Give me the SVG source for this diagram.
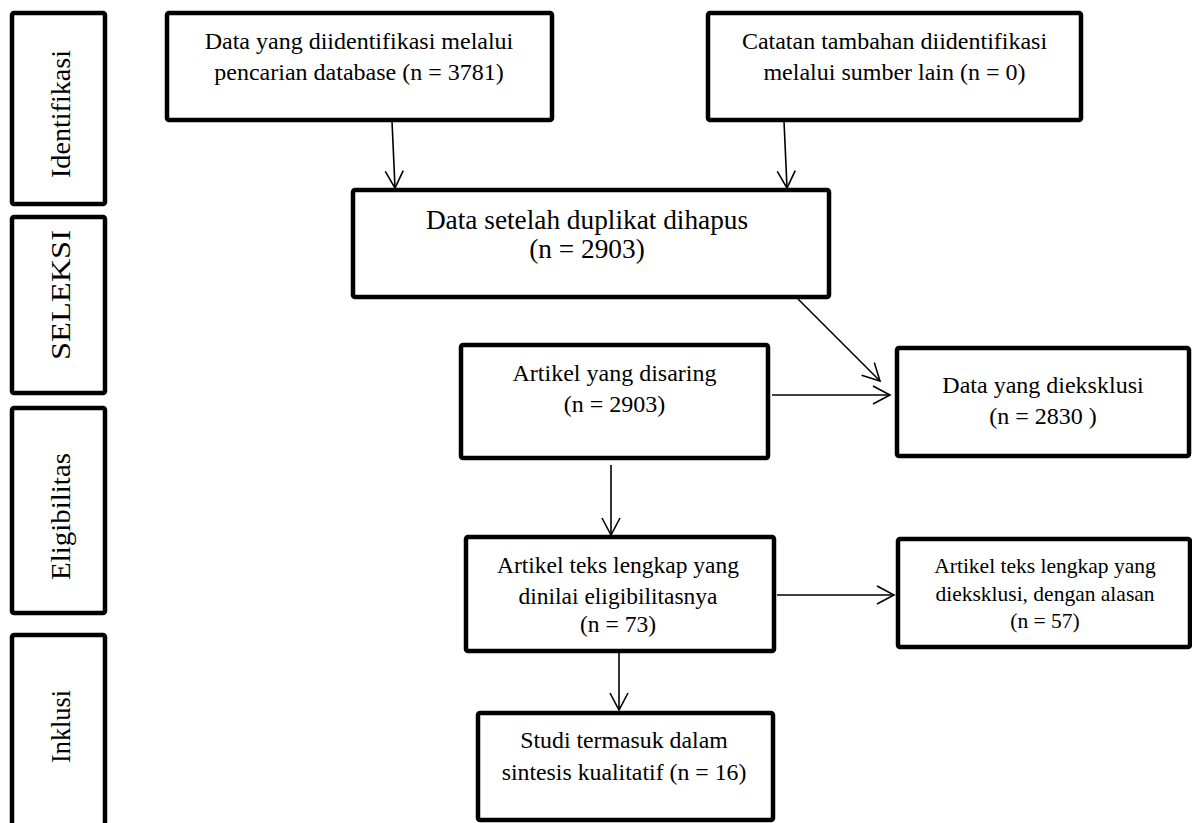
<svg xmlns="http://www.w3.org/2000/svg" width="1192" height="823" viewBox="0 0 1192 823">
<style>
.box{fill:#fff;stroke:#000;stroke-width:4.5}
.t{font-family:"Liberation Serif","Times New Roman",serif;fill:#000;text-anchor:middle;font-size:24px}
.s{font-size:21.5px}
.m{font-size:23.5px}
.st{font-size:23.8px}
.b{font-size:27.3px}
.side{font-size:28px}
.c{stroke:#000;stroke-width:1.6;fill:none;marker-end:url(#ah)}
</style>
<defs>
<marker id="ah" markerUnits="userSpaceOnUse" markerWidth="24" markerHeight="24" viewBox="-20 -12 24 24" refX="0" refY="0" orient="auto">
<path d="M -17 -9 L 0 0 L -17 9" fill="none" stroke="#000" stroke-width="1.6"/>
</marker>
</defs>
<rect width="1192" height="823" fill="#fff"/>
<g id="side-identifikasi"><rect class="box" x="12" y="13" width="93" height="191" rx="2"/><text class="t side" transform="translate(70,114) rotate(-90)" textLength="128" lengthAdjust="spacingAndGlyphs">Identifikasi</text></g>
<g id="side-seleksi"><rect class="box" x="12" y="217" width="93" height="176" rx="2"/><text class="t side" transform="translate(70,295) rotate(-90)" textLength="130" lengthAdjust="spacingAndGlyphs">SELEKSI</text></g>
<g id="side-eligibilitas"><rect class="box" x="12" y="408" width="93" height="205" rx="2"/><text class="t side" transform="translate(70,516.5) rotate(-90)" textLength="127" lengthAdjust="spacingAndGlyphs">Eligibilitas</text></g>
<g id="side-inklusi"><rect class="box" x="12" y="635" width="93" height="200" rx="2"/><text class="t side" transform="translate(70,726.5) rotate(-90)" textLength="73" lengthAdjust="spacingAndGlyphs">Inklusi</text></g>
<g id="n-database"><rect class="box" x="167" y="13" width="385" height="107" rx="2"/><text class="t" x="359" y="49">Data yang diidentifikasi melalui</text><text class="t" x="359" y="80">pencarian database (n = 3781)</text></g>
<g id="n-lain"><rect class="box" x="708" y="13" width="373" height="107" rx="2"/><text class="t" x="894.5" y="49">Catatan tambahan diidentifikasi</text><text class="t" x="894.5" y="80">melalui sumber lain (n = 0)</text></g>
<g id="n-duplikat"><rect class="box" x="353" y="190" width="476" height="107" rx="2"/><text class="t b" x="587" y="229">Data setelah duplikat dihapus</text><text class="t b" x="587" y="258">(n = 2903)</text></g>
<g id="n-disaring"><rect class="box" x="461" y="345" width="307" height="113" rx="2"/><text class="t" x="614.5" y="381">Artikel yang disaring</text><text class="t" x="614.5" y="412">(n = 2903)</text></g>
<g id="n-dieksklusi"><rect class="box" x="897" y="348" width="292" height="108" rx="2"/><text class="t" x="1043" y="393">Data yang dieksklusi</text><text class="t" x="1043" y="424">(n = 2830 )</text></g>
<g id="n-teks"><rect class="box" x="466" y="537" width="308" height="114" rx="2"/><text class="t m" x="618" y="573">Artikel teks lengkap yang</text><text class="t m" x="618" y="604">dinilai eligibilitasnya</text><text class="t m" x="618" y="632">(n = 73)</text></g>
<g id="n-teks-eksklusi"><rect class="box" x="898" y="539" width="292" height="108" rx="2"/><text class="t s" x="1045" y="573">Artikel teks lengkap yang</text><text class="t s" x="1045" y="601">dieksklusi, dengan alasan</text><text class="t s" x="1045" y="628">(n = 57)</text></g>
<g id="n-studi"><rect class="box" x="478" y="713" width="295" height="107" rx="2"/><text class="t st" x="624" y="748">Studi termasuk dalam</text><text class="t st" x="624" y="780">sintesis kualitatif (n = 16)</text></g>
<g id="connectors">
<line class="c" x1="392" y1="121" x2="395" y2="188"/>
<line class="c" x1="784" y1="121" x2="787" y2="188"/>
<line class="c" x1="798" y1="299" x2="880" y2="381"/>
<line class="c" x1="772" y1="395" x2="890" y2="395"/>
<line class="c" x1="611" y1="465" x2="611" y2="535"/>
<line class="c" x1="777" y1="595" x2="894" y2="595"/>
<line class="c" x1="619" y1="653" x2="619" y2="710"/>
</g>
</svg>
